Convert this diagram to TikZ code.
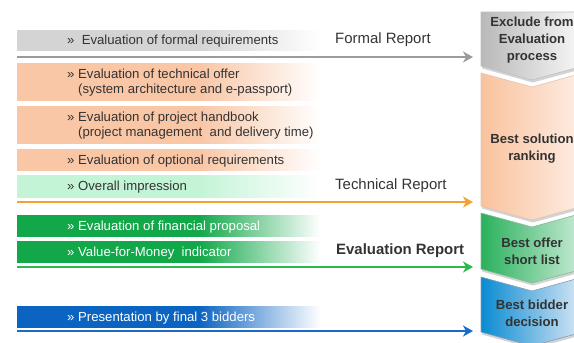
\documentclass[tikz,border=0pt]{standalone}
\usepackage{fontspec}
\setmainfont{Liberation Sans}
\usetikzlibrary{arrows.meta,positioning,shadows}

\definecolor{grayBar}{HTML}{D4D4D4}
\definecolor{orangeBar}{HTML}{F9C6A6}
\definecolor{mintBar}{HTML}{C4F4D6}
\definecolor{greenBar}{HTML}{12A84A}
\definecolor{blueBar}{HTML}{0C64C2}
\definecolor{grayLine}{HTML}{9C9C9C}
\definecolor{orangeLine}{HTML}{F5A131}
\definecolor{greenLine}{HTML}{2DB84F}
\definecolor{blueLine}{HTML}{1A6BC8}
\definecolor{txtDark}{HTML}{333333}

\colorlet{barcol}{white}
\pgfdeclarehorizontalshading[barcol]{barfade}{100bp}{color(0bp)=(barcol); color(25bp)=(barcol); color(55bp)=(barcol); color(75bp)=(white); color(100bp)=(white)}

\begin{document}
\begin{tikzpicture}[x=1bp,y=-1bp]
    \tikzstyle{bar} = [shade, shading=barfade, /utils/exec={\colorlet{barcol}{#1}}, minimum width=303bp, inner sep=0pt, anchor=west]
    \tikzstyle{item} = [font=\fontsize{13.2}{15}\selectfont, align=left, inner sep=0pt, text=txtDark, yshift=-1.5bp]
    \tikzstyle{report} = [font=\fontsize{15}{17}\selectfont, anchor=west, inner sep=0pt, text=txtDark]
    \tikzstyle{chevron} = [draw=black!25, line width=0.6bp, drop shadow={opacity=0.35, shadow xshift=1bp, shadow yshift=-2.5bp}]
    \tikzstyle{stage} = [align=center, inner sep=0pt, font=\fontsize{13.2}{17}\bfseries\selectfont, text=txtDark]
    \tikzstyle{line} = [draw, line width=2.2bp, -{Stealth[length=10bp,width=11bp,inset=3bp]}, shorten >=8bp]

    \def\cL{481}
    \def\cM{532}
    \def\cR{583}

    \clip (0,0) rectangle (574,342);

    % stages on the right
    \path[chevron, left color=gray!55, right color=gray!5]
        (\cL,12) -- (\cR,12) -- (\cR,66) -- (\cM,80) -- (\cL,66) -- cycle;
    \path[chevron, draw=orangeBar!80!black!60, left color=orangeBar!95!orange, right color=orangeBar!30]
        (\cL,73) -- (\cM,87) -- (\cR,73) -- (\cR,206) -- (\cM,220) -- (\cL,206) -- cycle;
    \path[chevron, draw=greenBar!70!black!50, left color=greenBar!90, right color=greenBar!22]
        (\cL,213) -- (\cM,227) -- (\cR,213) -- (\cR,269) -- (\cM,283) -- (\cL,269) -- cycle;
    \path[chevron, draw=blueBar!60!black!50, left color=blueBar!75!cyan, right color=blueBar!15]
        (\cL,277) -- (\cM,291) -- (\cR,277) -- (\cR,332) -- (\cM,346) -- (\cL,332) -- cycle;

    \node[stage] (c1) at (\cM,40) {Exclude from\\Evaluation\\process};
    \node[stage] (c2) at (\cM,148.5) {Best solution\\ranking};
    \node[stage] (c3) at (\cM,251) {Best offer\\short list};
    \node[stage] (c4) at (\cM,313.5) {Best bidder\\decision};

    % evaluation items
    \node[bar=grayBar, minimum height=20bp] (b1) at (17,40) {};
    \node[item, right=50bp of b1.west] (t1) {»~~Evaluation of formal requirements};

    \node[bar=orangeBar, minimum height=37bp] (b2) at (17,81.5) {};
    \node[item, right=50bp of b2.west] (t2) {» Evaluation of technical offer\\\phantom{» }(system architecture and e-passport)};

    \node[bar=orangeBar, minimum height=37bp] (b3) at (17,124.5) {};
    \node[item, right=50bp of b3.west] (t3) {» Evaluation of project handbook\\\phantom{» }(project management~ and delivery time)};

    \node[bar=orangeBar, minimum height=21bp] (b4) at (17,159.5) {};
    \node[item, right=50bp of b4.west] (t4) {» Evaluation of optional requirements};

    \node[bar=mintBar, minimum height=22bp] (b5) at (17,186) {};
    \node[item, right=50bp of b5.west] (t5) {» Overall impression};

    \node[bar=greenBar, minimum height=21bp] (b6) at (17,225.5) {};
    \node[item, text=white, right=50bp of b6.west] (t6) {» Evaluation of financial proposal};

    \node[bar=greenBar, minimum height=21bp] (b7) at (17,251.5) {};
    \node[item, text=white, right=50bp of b7.west] (t7) {» Value-for-Money~ indicator};

    \node[bar=blueBar, minimum height=21bp] (b8) at (17,316.5) {};
    \node[item, text=white, right=50bp of b8.west] (t8) {» Presentation by final 3 bidders};

    % reports
    \node[report] (r1) at (335,40) {Formal Report};
    \node[report] (r2) at (335,186) {Technical Report};
    \node[report, font=\fontsize{15}{17}\bfseries\selectfont] (r3) at (336,251) {Evaluation Report};

    \coordinate (a1) at (17,57);
    \coordinate (a2) at (17,202);
    \coordinate (a3) at (17,267);
    \coordinate (a4) at (17,331);

    \path [line, grayLine, line width=2.6bp] (a1) -- (a1 -| \cL,0);
    \path [line, orangeLine] (a2) -- (a2 -| \cL,0);
    \path [line, greenLine] (a3) -- (a3 -| \cL,0);
    \path [line, blueLine] (a4) -- (a4 -| \cL,0);
\end{tikzpicture}
\end{document}
